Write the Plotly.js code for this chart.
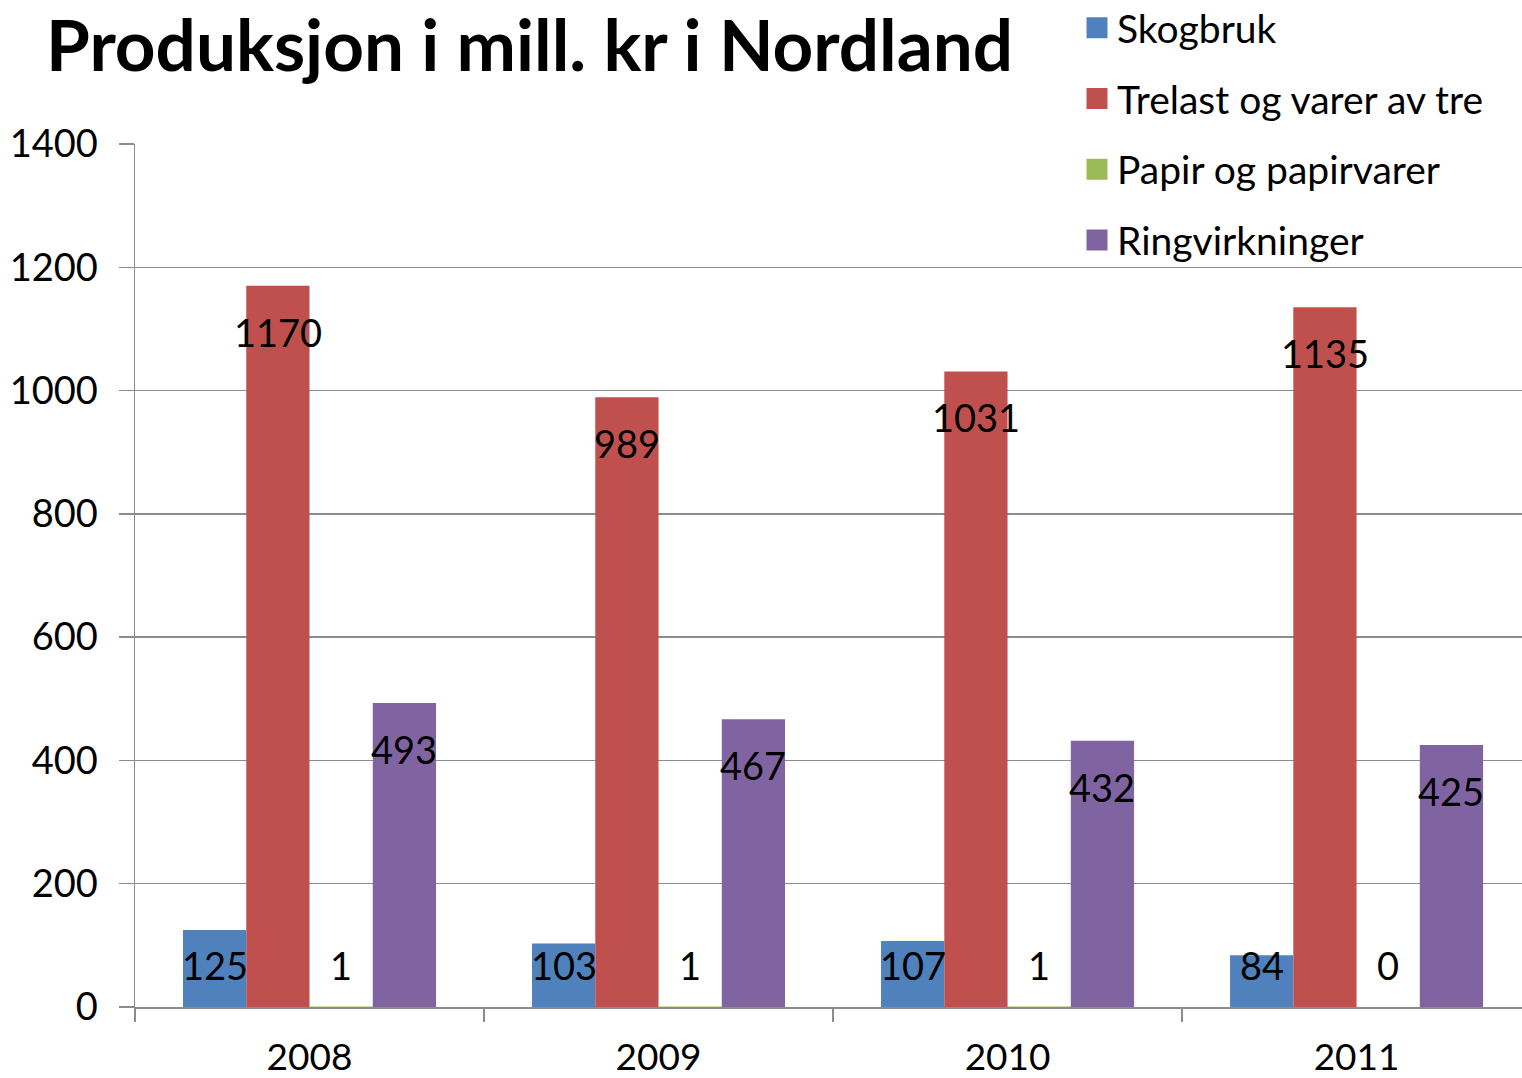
<!DOCTYPE html>
<html>
<head>
<meta charset="utf-8">
<script src="https://cdn.plot.ly/plotly-3.0.1.min.js"></script>
<style>html,body{margin:0;padding:0;background:#fff;}#chart{width:1522px;height:1078px;}</style>
</head>
<body>
<div id="chart"></div>
<script>
const years = ['2008', '2009', '2010', '2011'];
const seriesNames = ['Skogbruk', 'Trelast og varer av tre', 'Papir og papirvarer', 'Ringvirkninger'];
const skogbruk = [125, 103, 107, 84];
const trelast = [1170, 989, 1031, 1135];
const papir = [1, 1, 1, 0];
const ringvirkninger = [493, 467, 432, 425];
const colors = ['#4F81BD', '#C0504D', '#9BBB59', '#8064A2'];
const yTicks = [0, 200, 400, 600, 800, 1000, 1200, 1400];

const allSeries = [skogbruk, trelast, papir, ringvirkninger];
const FONT = 'Lato, "Open Sans", sans-serif';
const bargap = 0.275;
const nSeries = allSeries.length;
const barW = (1 - bargap) / nSeries;

const traces = [];
allSeries.forEach((vals, k) => {
  traces.push({
    type: 'bar', x: years, y: vals, name: seriesNames[k],
    marker: {color: colors[k], line: {width: 0}},
    showlegend: false, legendgroup: 'g' + k, hoverinfo: 'x+y+name'
  });
});
allSeries.forEach((vals, k) => {
  traces.push({
    type: 'scatter', mode: 'markers', x: [null], y: [null], name: seriesNames[k],
    marker: {color: colors[k], symbol: 'square', size: 22, line: {color: colors[k], width: 5}},
    showlegend: true, legendgroup: 'g' + k, hoverinfo: 'skip'
  });
});

// data labels
const plotH = 1078 - 144 - 71;
const pxPerUnit = plotH / 1400;
const annotations = [];
allSeries.forEach((vals, k) => {
  vals.forEach((v, i) => {
    const fits = v * pxPerUnit - 46 >= 42;
    annotations.push({
      xref: 'x', yref: 'y', x: i + (k - (nSeries - 1) / 2) * barW,
      y: fits ? v : 0, yshift: fits ? -46 : 42,
      text: String(v), showarrow: false, xanchor: 'center', yanchor: 'middle',
      font: {family: FONT, size: 38, color: '#000'}
    });
  });
});

const layout = {
  width: 1522, height: 1078,
  margin: {l: 135, r: 0, t: 144, b: 71, pad: 0, autoexpand: false},
  paper_bgcolor: '#fff', plot_bgcolor: '#fff',
  font: {family: FONT, size: 38, color: '#000'},
  title: {
    text: 'Produksjon i mill. kr i Nordland',
    font: {family: FONT, size: 71, weight: 700, color: '#000'},
    xref: 'container', yref: 'container', x: 46 / 1522, xanchor: 'left',
    y: 1 - 46 / 1078, yanchor: 'middle'
  },
  barmode: 'group', bargap: bargap, bargroupgap: 0,
  xaxis: {
    type: 'category', range: [-0.5, 3.474], showgrid: false, zeroline: false,
    showline: true, linecolor: '#8c8c8c', linewidth: 1.5,
    ticks: 'outside', tickson: 'boundaries', ticklen: 13, tickcolor: '#8c8c8c', tickwidth: 1.5,
    tickfont: {family: FONT, size: 37, color: '#000'}, ticklabelstandoff: 17,
    fixedrange: true
  },
  yaxis: {
    range: [0, 1400], tickvals: yTicks, ticktext: yTicks.map(String),
    showgrid: true, gridcolor: '#8c8c8c', gridwidth: 1.5, zeroline: false,
    showline: true, linecolor: '#8c8c8c', linewidth: 1.5,
    ticks: 'outside', ticklen: 15, tickcolor: '#8c8c8c', tickwidth: 1.5,
    tickfont: {family: FONT, size: 38, color: '#000'}, ticklabelstandoff: 13,
    fixedrange: true
  },
  legend: {
    xref: 'container', yref: 'paper', x: 1077 / 1522, y: (1007 + 4) / 863,
    xanchor: 'left', yanchor: 'top', bgcolor: 'rgba(0,0,0,0)',
    font: {family: FONT, size: 39, color: '#000'},
    traceorder: 'grouped', tracegroupgap: 17, itemsizing: 'trace'
  },
  annotations: annotations
};

Plotly.newPlot('chart', traces, layout, {displayModeBar: false, staticPlot: true});
</script>
</body>
</html>
